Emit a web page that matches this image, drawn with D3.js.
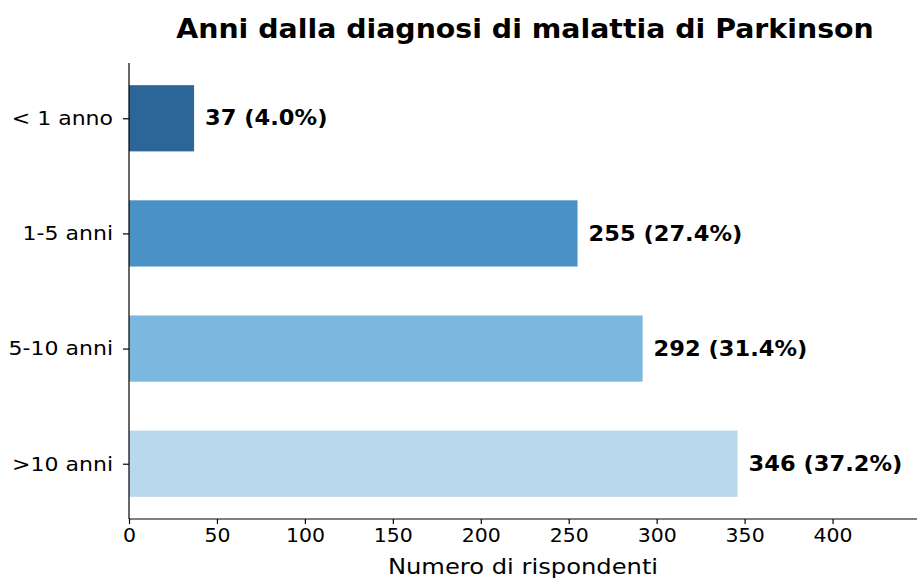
<!DOCTYPE html>
<html>
<head>
<meta charset="utf-8">
<script src="https://cdn.jsdelivr.net/npm/d3@7"></script>
<style>
  body { margin: 0; background: #fff; }
  text { font-family: "DejaVu Sans", sans-serif; fill: #000; }
</style>
</head>
<body>
<div id="viz"></div>
<script>
// data
var categories = ["< 1 anno", "1-5 anni", "5-10 anni", ">10 anni"];
var counts = [37, 255, 292, 346];
var percents = [4.0, 27.4, 31.4, 37.2];
var colors = ["#2c6699", "#4a91c5", "#7ab8df", "#b8d8ec"];
var xTicks = [0, 50, 100, 150, 200, 250, 300, 350, 400];

var margin = { top: 63, right: 0, bottom: 61, left: 129 },
    width = 917 - margin.left - margin.right,
    height = 580 - margin.top - margin.bottom;

var svg = d3.select("#viz")
  .append("svg")
  .attr("width", 917)
  .attr("height", 580)
  .append("g")
  .attr("transform", "translate(" + margin.left + "," + margin.top + ")");

// the reference text is a little wider than tall, stretch glyphs horizontally
var stretch = (sel, k) => sel.each(function() {
  var len = this.getComputedTextLength();
  d3.select(this).attr("textLength", len * k).attr("lengthAdjust", "spacingAndGlyphs");
});

// scales
var xScale = d3.scaleLinear().domain([0, 448]).range([0, width]);
// category index scale (matplotlib-like limits)
var yScale = d3.scaleLinear().domain([-0.48, 3.48]).range([0, height]);
var barH = 0.575;

// bars
svg.selectAll(".bar")
  .data(counts)
  .enter().append("rect")
  .attr("class", "bar")
  .attr("x", xScale(0))
  .attr("y", (d, i) => yScale(i - barH / 2))
  .attr("width", d => xScale(d) - xScale(0))
  .attr("height", yScale(barH) - yScale(0))
  .attr("fill", (d, i) => colors[i]);

// value labels
svg.selectAll(".lbl")
  .data(counts)
  .enter().append("text")
  .attr("class", "lbl")
  .attr("x", d => xScale(d) + 11)
  .attr("y", (d, i) => yScale(i))
  .attr("dy", "0.35em")
  .style("font-size", "20.5px")
  .style("font-weight", "bold")
  .text((d, i) => d + " (" + percents[i].toFixed(1) + "%)")
  .call(stretch, 1.1);

// x axis
var xAxis = svg.append("g")
  .attr("transform", "translate(0," + height + ")")
  .call(d3.axisBottom(xScale).tickValues(xTicks).tickSize(5).tickPadding(5));
xAxis.select(".domain").attr("stroke", "#000").attr("stroke-width", 1.2).attr("d", "M0,0H" + width);
xAxis.selectAll(".tick line").attr("stroke", "#000").attr("stroke-width", 1.2);
xAxis.selectAll(".tick text").style("font-size", "18.6px").style("font-family", "DejaVu Sans").call(stretch, 1.1);

// y axis
var yAxis = svg.append("g")
  .call(d3.axisLeft(yScale).tickValues([0, 1, 2, 3]).tickFormat(i => categories[i]).tickSize(6).tickPadding(10));
yAxis.select(".domain").attr("stroke", "#000").attr("stroke-width", 1.2).attr("d", "M0,0V" + height);
yAxis.selectAll(".tick line").attr("stroke", "#000").attr("stroke-width", 1.2);
yAxis.selectAll(".tick text").style("font-size", "20px").style("font-family", "DejaVu Sans").call(stretch, 1.1);

// x label
svg.append("text")
  .attr("x", width / 2)
  .attr("y", height + 55)
  .style("text-anchor", "middle")
  .style("font-size", "22px")
  .text("Numero di rispondenti")
  .call(stretch, 1.1);

// title
svg.append("text")
  .attr("x", width / 2 + 2)
  .attr("y", -25)
  .style("text-anchor", "middle")
  .style("font-size", "25.8px")
  .style("font-weight", "bold")
  .text("Anni dalla diagnosi di malattia di Parkinson")
  .call(stretch, 1.1);
</script>
</body>
</html>
